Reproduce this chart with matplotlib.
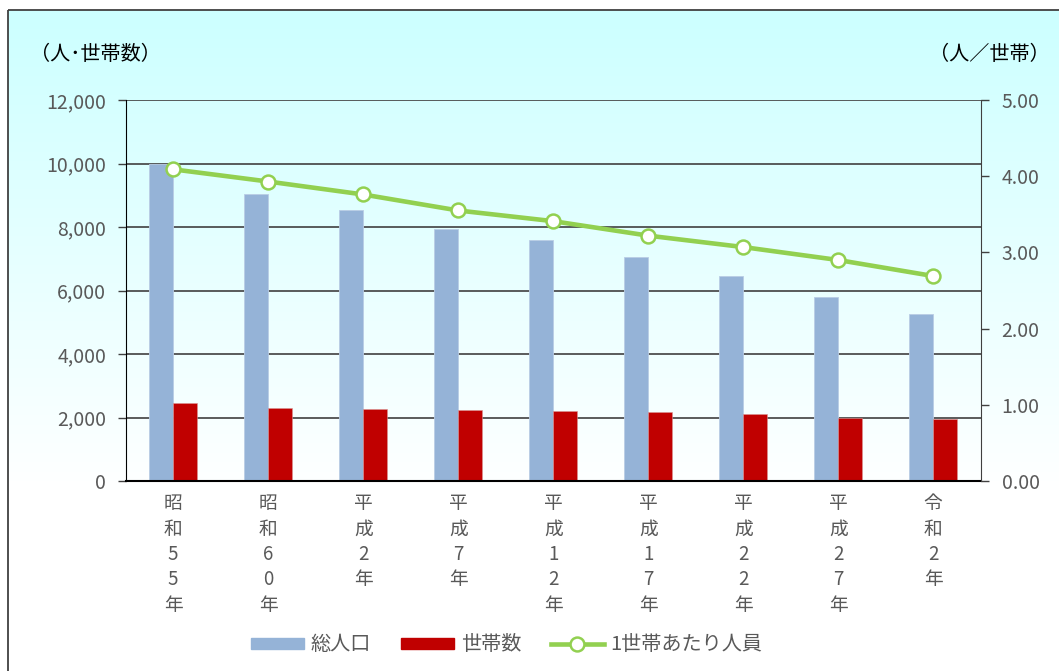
import numpy as np
import matplotlib
matplotlib.use("Agg")
from matplotlib import pyplot as plt
from matplotlib.patches import Patch, Rectangle
from matplotlib.lines import Line2D

plt.rcParams['font.family'] = ['Noto Sans CJK JP', 'DejaVu Sans']

# Data
years = ["昭和55年", "昭和60年", "平成2年", "平成7年", "平成12年",
         "平成17年", "平成22年", "平成27年", "令和2年"]
population = [10000, 9030, 8540, 7950, 7580, 7050, 6460, 5800, 5260]
households = [2450, 2300, 2260, 2240, 2220, 2180, 2110, 2000, 1950]
per_household = [4.09, 3.93, 3.76, 3.55, 3.41, 3.22, 3.07, 2.90, 2.69]

left_ticks = [0, 2000, 4000, 6000, 8000, 10000, 12000]
right_ticks = [0, 1, 2, 3, 4, 5]

blue = "#95B3D7"
red = "#C00000"
green = "#92D050"
gray = "#595959"

W, H = 1059, 671
fig = plt.figure(figsize=(W / 100, H / 100), dpi=100)

# Background: cyan-to-white gradient inside a thin frame
bg = fig.add_axes([0, 0, 1, 1], zorder=-10)
bg.set_xlim(0, W)
bg.set_ylim(H, 0)
bg.axis("off")
rows = np.arange(H)
t = np.clip((rows - 10) / 480.0, 0, 1)[:, None, None]
top = np.array([0.80, 1.0, 1.0])
grad = top * (1 - t) + np.ones(3) * t
grad = np.repeat(grad, 2, axis=1)
bg.imshow(grad, extent=(8, W, H, 0), aspect="auto", interpolation="bilinear")
bg.add_patch(Rectangle((0, 0), 8, H, color="white", lw=0))
bg.add_patch(Rectangle((0, 0), W, 10, color="white", lw=0))
bg.add_patch(Rectangle((8, 10), W + 10, H + 10, fill=False,
                       edgecolor="#404040", lw=1.3))

ax = fig.add_axes([125.7 / W, 190 / H, 855 / W, 381 / H])
ax.patch.set_visible(False)

x = np.arange(len(years))
bw = 0.25
ax.bar(x - bw / 2, population, bw, color=blue, edgecolor="#B9CDE5", lw=0.6)
ax.bar(x + bw / 2, households, bw, color=red, edgecolor="#D99694", lw=0.4)

ax.set_xlim(-0.5, len(years) - 0.5)
ax.set_ylim(0, 12000)
ax.set_yticks(left_ticks)
ax.set_yticklabels([f"{v:,}" for v in left_ticks])
ax.set_axisbelow(True)
ax.yaxis.grid(True, color="#404040", lw=1.2)
ax.set_xticks(x)
ax.set_xticklabels(["\n".join(list(s)) for s in years], linespacing=1.27)
ax.tick_params(axis="x", length=0, pad=9, labelsize=13.5, labelcolor=gray)
ax.tick_params(axis="y", direction="out", length=6, width=1, pad=8,
               labelsize=14, labelcolor=gray, color="#404040")
for s in ["top", "right"]:
    ax.spines[s].set_visible(False)
ax.spines["left"].set_color("black")
ax.spines["bottom"].set_color("black")
ax.spines["bottom"].set_linewidth(1.5)

ax2 = ax.twinx()
ax2.patch.set_visible(False)
ax2.plot(x, per_household, color=green, lw=3.3, marker="o", ms=10,
         mfc="white", mec=green, mew=1.8)
ax2.set_ylim(0, 5)
ax2.set_yticks(right_ticks)
ax2.set_yticklabels([f"{v:.2f}" for v in right_ticks])
ax2.tick_params(axis="y", direction="out", length=6, width=1, pad=9,
                labelsize=14, labelcolor=gray, color="#404040")
for s in ["top", "left", "bottom"]:
    ax2.spines[s].set_visible(False)
ax2.spines["right"].set_color("#404040")

fig.text(30 / W, 1 - 55 / H, "（人･世帯数）", fontsize=14.5, color="black",
         va="center", ha="left")
fig.text(1050 / W, 1 - 55 / H, "（人／世帯）", fontsize=14.5, color="black",
         va="center", ha="right")

handles = [Patch(color=blue), Patch(color=red),
           Line2D([], [], color=green, lw=3.3, marker="o", ms=10,
                  mfc="white", mec=green, mew=1.8)]
labels = ["総人口", "世帯数", "1世帯あたり人員"]
leg = fig.legend(handles, labels, loc="center", bbox_to_anchor=(507 / W, 1 - 645 / H),
                 ncol=3, frameon=False, fontsize=14.5, handlelength=2.6,
                 handleheight=0.5, columnspacing=1.5, handletextpad=0.35)
for txt in leg.get_texts():
    txt.set_color(gray)

fig.savefig("out.png", dpi=100)
